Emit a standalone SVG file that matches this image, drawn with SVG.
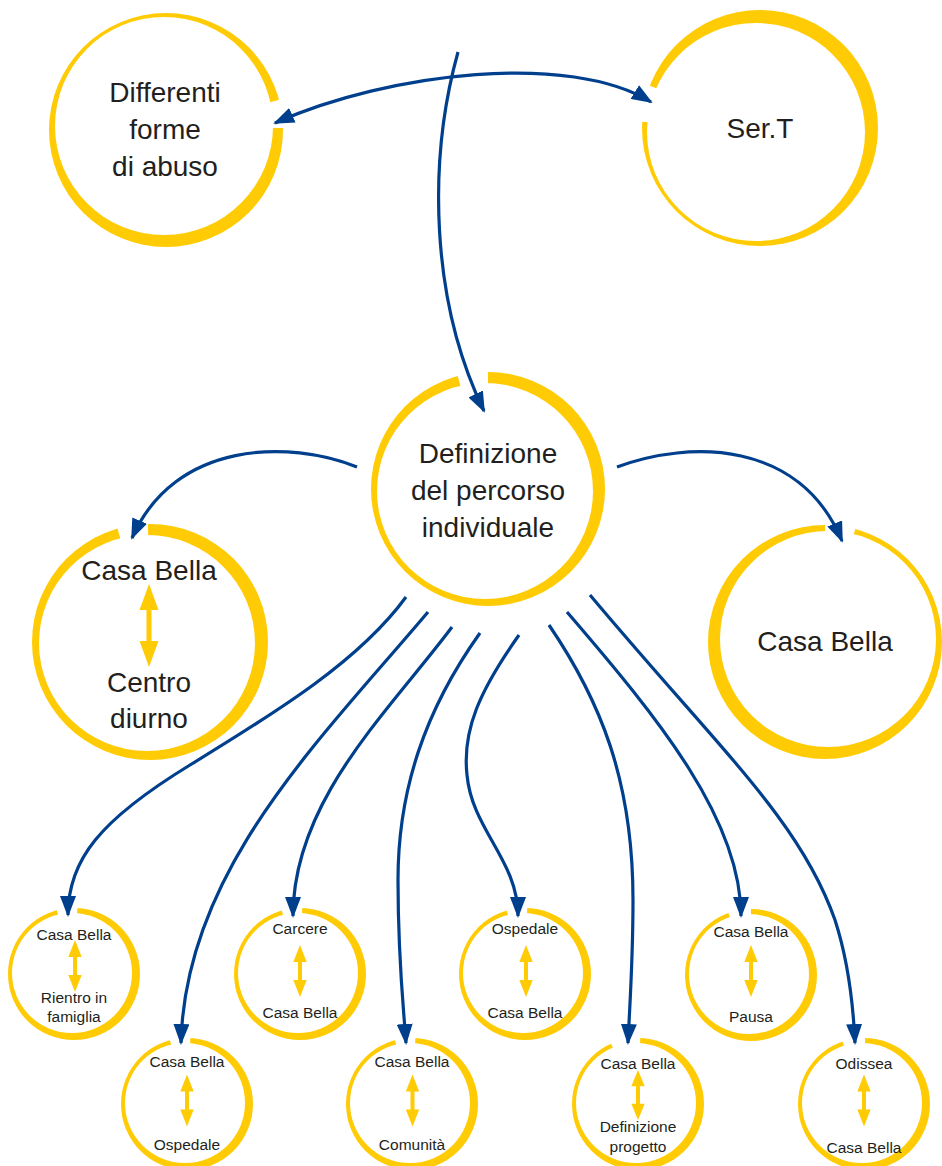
<svg xmlns="http://www.w3.org/2000/svg" xmlns:xlink="http://www.w3.org/1999/xlink" width="942" height="1166" viewBox="0 0 942 1166">
<style>
.ro{fill:#ffcb05}
.ri{fill:#fff}
.gap{fill:none;stroke:#fff}
.t{font-family:"Liberation Sans",Arial,sans-serif;fill:#231f20;text-anchor:middle}
.big{font-size:28px}
.sm{font-size:15.5px}
.ya{fill:#ffcb05}
.con{fill:none;stroke:#003f8c;stroke-width:3.2}
</style>
<defs>
<marker id="ah" viewBox="0 0 21 16" refX="19" refY="8" markerWidth="21" markerHeight="16" markerUnits="userSpaceOnUse" orient="auto-start-reverse">
<path d="M0,0 L21,8 L0,16 z" fill="#003f8c"/>
</marker>
<path id="sa" class="ya" d="M0,-26 L6.7,-9 L2,-9 L2,9 L6.7,9 L0,26 L-6.7,9 L-2,9 L-2,-9 L-6.7,-9 Z"/>
</defs>
<rect width="942" height="1166" fill="#fff"/>

<g id="n-differenti">
<circle class="ro" cx="166" cy="130" r="117"/>
<circle class="ri" cx="164" cy="126" r="109"/>
<circle class="gap" cx="166" cy="130" r="112" stroke-width="26" pathLength="360" stroke-dasharray="14 346" transform="rotate(-15 166 130)"/>
<text class="t big" x="165" y="102">Differenti</text>
<text class="t big" x="165" y="139">forme</text>
<text class="t big" x="165" y="176">di abuso</text>
</g>

<g id="n-sert">
<circle class="ro" cx="760" cy="128" r="118"/>
<circle class="ri" cx="756" cy="132" r="109"/>
<circle class="gap" cx="760" cy="128" r="112" stroke-width="26" pathLength="360" stroke-dasharray="18 342" transform="rotate(183 760 128)"/>
<text class="t big" x="760" y="138">Ser.T</text>
</g>

<g id="n-definizione">
<circle class="ro" cx="488" cy="489" r="117"/>
<circle class="ri" cx="485" cy="491" r="108"/>
<circle class="gap" cx="488" cy="489" r="112" stroke-width="26" pathLength="360" stroke-dasharray="15 345" transform="rotate(-105 488 489)"/>
<text class="t big" x="488" y="463">Definizione</text>
<text class="t big" x="488" y="500">del percorso</text>
<text class="t big" x="488" y="537">individuale</text>
</g>

<g id="n-centro-diurno">
<circle class="ro" cx="150" cy="642" r="118"/>
<circle class="ri" cx="147" cy="643" r="108"/>
<circle class="gap" cx="150" cy="642" r="112" stroke-width="26" pathLength="360" stroke-dasharray="15 345" transform="rotate(-106 150 642)"/>
<text class="t big" x="149" y="580">Casa Bella</text>
<path class="ya" d="M149,584 L158.5,610 L151.5,610 L151.5,641 L158.5,641 L149,667 L139.5,641 L146.5,641 L146.5,610 L139.5,610 Z"/>
<text class="t big" x="149" y="692">Centro</text>
<text class="t big" x="149" y="728">diurno</text>
</g>

<g id="n-casabella">
<circle class="ro" cx="825" cy="642" r="117"/>
<circle class="ri" cx="828" cy="639" r="108"/>
<circle class="gap" cx="825" cy="642" r="112" stroke-width="26" pathLength="360" stroke-dasharray="15 345" transform="rotate(-90 825 642)"/>
<text class="t big" x="825" y="651">Casa Bella</text>
</g>

<g id="n-s1">
<circle class="ro" cx="74" cy="974" r="66"/>
<circle class="ri" cx="72" cy="973" r="60"/>
<circle class="gap" cx="74" cy="974" r="63" stroke-width="16" pathLength="360" stroke-dasharray="18 342" transform="rotate(-105 74 974)"/>
<text class="t sm" x="74" y="940">Casa Bella</text>
<use xlink:href="#sa" href="#sa" x="75" y="966"/>
<text class="t sm" x="74" y="1003">Rientro in</text>
<text class="t sm" x="74" y="1022">famiglia</text>
</g>

<g id="n-s2">
<circle class="ro" cx="187" cy="1104" r="66"/>
<circle class="ri" cx="185" cy="1103" r="60"/>
<circle class="gap" cx="187" cy="1104" r="63" stroke-width="16" pathLength="360" stroke-dasharray="18 342" transform="rotate(-105 187 1104)"/>
<text class="t sm" x="187" y="1067">Casa Bella</text>
<use xlink:href="#sa" href="#sa" x="187" y="1100.5"/>
<text class="t sm" x="187" y="1150">Ospedale</text>
</g>

<g id="n-s3">
<circle class="ro" cx="300" cy="974" r="66"/>
<circle class="ri" cx="298" cy="973" r="60"/>
<circle class="gap" cx="300" cy="974" r="63" stroke-width="16" pathLength="360" stroke-dasharray="18 342" transform="rotate(-106 300 974)"/>
<text class="t sm" x="300" y="934">Carcere</text>
<use xlink:href="#sa" href="#sa" x="300" y="971"/>
<text class="t sm" x="300" y="1018">Casa Bella</text>
</g>

<g id="n-s4">
<circle class="ro" cx="412" cy="1104" r="66"/>
<circle class="ri" cx="410" cy="1103" r="60"/>
<circle class="gap" cx="412" cy="1104" r="63" stroke-width="16" pathLength="360" stroke-dasharray="18 342" transform="rotate(-105 412 1104)"/>
<text class="t sm" x="412" y="1067">Casa Bella</text>
<use xlink:href="#sa" href="#sa" x="412.5" y="1100.5"/>
<text class="t sm" x="412" y="1150">Comunità</text>
</g>

<g id="n-s5">
<circle class="ro" cx="525" cy="974" r="66"/>
<circle class="ri" cx="523" cy="973" r="60"/>
<circle class="gap" cx="525" cy="974" r="63" stroke-width="16" pathLength="360" stroke-dasharray="18 342" transform="rotate(-106 525 974)"/>
<text class="t sm" x="525" y="934">Ospedale</text>
<use xlink:href="#sa" href="#sa" x="526" y="971"/>
<text class="t sm" x="525" y="1018">Casa Bella</text>
</g>

<g id="n-s6">
<circle class="ro" cx="638" cy="1104" r="66"/>
<circle class="ri" cx="636" cy="1103" r="60"/>
<circle class="gap" cx="638" cy="1104" r="63" stroke-width="16" pathLength="360" stroke-dasharray="26 334" transform="rotate(-114 638 1104)"/>
<text class="t sm" x="638" y="1069">Casa Bella</text>
<use xlink:href="#sa" href="#sa" x="638" y="1095" transform="translate(638 1095) scale(1 0.96) translate(-638 -1095)"/>
<text class="t sm" x="638" y="1132">Definizione</text>
<text class="t sm" x="638" y="1152">progetto</text>
</g>

<g id="n-s7">
<circle class="ro" cx="751" cy="975" r="66"/>
<circle class="ri" cx="749" cy="974" r="60"/>
<circle class="gap" cx="751" cy="975" r="63" stroke-width="16" pathLength="360" stroke-dasharray="20 340" transform="rotate(-110 751 975)"/>
<text class="t sm" x="751" y="937">Casa Bella</text>
<use xlink:href="#sa" href="#sa" x="751" y="971"/>
<text class="t sm" x="751" y="1022">Pausa</text>
</g>

<g id="n-s8">
<circle class="ro" cx="864" cy="1104" r="66"/>
<circle class="ri" cx="862" cy="1103" r="60"/>
<circle class="gap" cx="864" cy="1104" r="63" stroke-width="16" pathLength="360" stroke-dasharray="20 340" transform="rotate(-109 864 1104)"/>
<text class="t sm" x="864" y="1069">Odissea</text>
<use xlink:href="#sa" href="#sa" x="864" y="1100.5"/>
<text class="t sm" x="864" y="1153">Casa Bella</text>
</g>

<g id="connectors">
<path class="con" d="M275,123 C390,72 570,52 651,102" marker-start="url(#ah)" marker-end="url(#ah)"/>
<path class="con" d="M458,52 C428,160 430,300 484,411" marker-end="url(#ah)"/>
<path class="con" d="M357,467 C290,440 175,440 132,538" marker-end="url(#ah)"/>
<path class="con" d="M617,467 C690,440 800,440 842,541" marker-end="url(#ah)"/>
<path class="con" d="M406,597 C360,660 280,710 190,765 C100,820 68,860 68,915" marker-end="url(#ah)"/>
<path class="con" d="M428,612 C320,740 185,870 181,1043" marker-end="url(#ah)"/>
<path class="con" d="M452,627 C390,710 293,800 293,916" marker-end="url(#ah)"/>
<path class="con" d="M480,633 C425,710 398,790 398,880 C398,960 403,1000 406,1043" marker-end="url(#ah)"/>
<path class="con" d="M519,635 C480,690 462,730 467,775 C472,830 518,860 518,916" marker-end="url(#ah)"/>
<path class="con" d="M549,625 C600,700 633,780 633,900 C633,960 630,1000 628,1043" marker-end="url(#ah)"/>
<path class="con" d="M567,612 C660,720 741,820 741,916" marker-end="url(#ah)"/>
<path class="con" d="M590,595 C720,750 800,820 835,920 C848,960 853,1000 855,1043" marker-end="url(#ah)"/>
</g>
</svg>
